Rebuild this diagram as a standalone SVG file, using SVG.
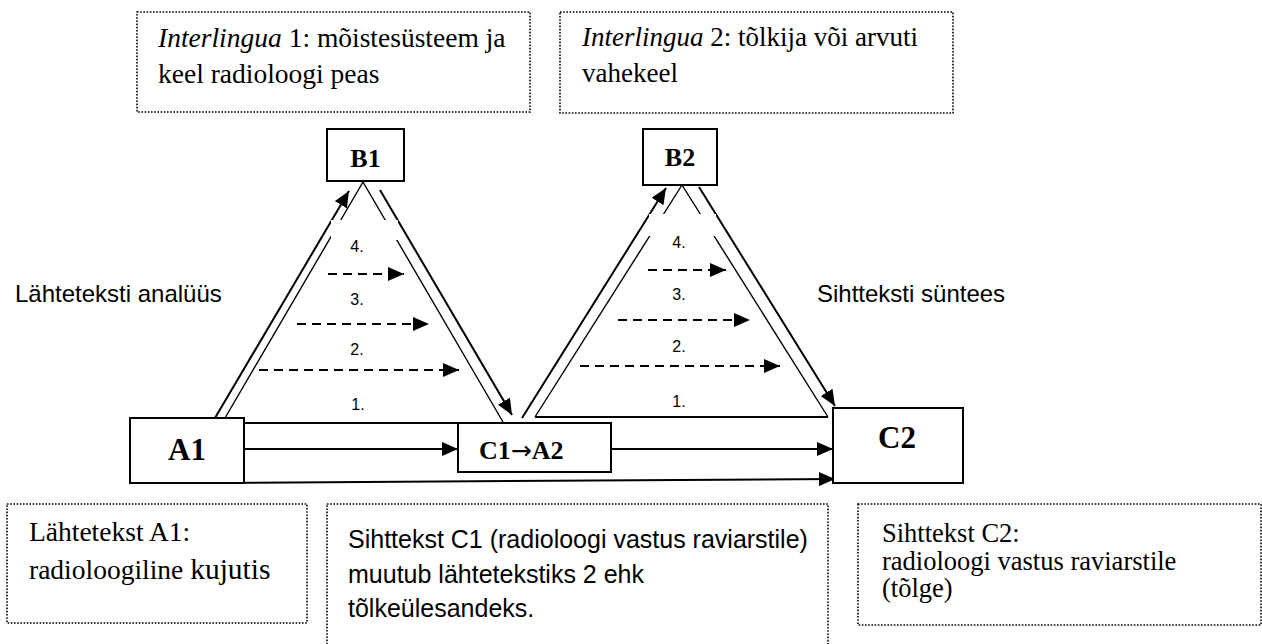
<svg xmlns="http://www.w3.org/2000/svg" width="1262" height="644" viewBox="0 0 1262 644">
<style>
.serif{font-family:"Liberation Serif","Times New Roman",serif;fill:#000}
.sans{font-family:"Liberation Sans",Arial,sans-serif;fill:#000}
.node{fill:#fff;stroke:#000;stroke-width:2}
.note{fill:#fff;stroke:#000;stroke-width:1.6;stroke-dasharray:1.6 1.6}
.bold{font-weight:bold}
.line{fill:none;stroke:#000;stroke-width:2}
.thin{fill:none;stroke:#000;stroke-width:1.4}
.dash{fill:none;stroke:#000;stroke-width:2;stroke-dasharray:9 6}
.num{font-size:16px;text-anchor:middle}
</style>
<defs>
<marker id="arr" markerUnits="userSpaceOnUse" viewBox="0 0 16 14" refX="16" refY="7" markerWidth="16" markerHeight="14" orient="auto">
<path d="M0,0 L16,7 L0,14 Z" fill="#000" stroke="none"/>
</marker>
</defs>
<rect width="1262" height="644" fill="#fff"/>

<g id="note-interlingua1">
<rect class="note" x="137" y="12" width="393" height="100"/>
<text class="serif" font-size="27.5" x="158" y="47"><tspan font-style="italic">Interlingua</tspan> 1: mõistesüsteem ja</text>
<text class="serif" font-size="27.5" x="158" y="83">keel radioloogi peas</text>
</g>
<g id="note-interlingua2">
<rect class="note" x="560" y="12" width="393" height="101"/>
<text class="serif" font-size="27" x="582" y="46"><tspan font-style="italic">Interlingua</tspan> 2: tõlkija või arvuti</text>
<text class="serif" font-size="27" x="582" y="82">vahekeel</text>
</g>

<g id="connectors">
<!-- triangle 1 -->
<line class="thin" x1="363" y1="182" x2="225" y2="418"/>
<line class="thin" x1="363" y1="182" x2="503" y2="422"/>
<line class="line" x1="215" y1="418" x2="349" y2="191" marker-end="url(#arr)"/>
<line class="line" x1="380" y1="190" x2="512" y2="415" marker-end="url(#arr)"/>
<rect x="331" y="220" width="67" height="20" fill="#fff"/>
<!-- triangle 2 -->
<line class="thin" x1="682" y1="185" x2="535" y2="417"/>
<line class="thin" x1="682" y1="185" x2="828" y2="417"/>
<line class="line" x1="535" y1="417" x2="828" y2="417"/>
<line class="line" x1="522" y1="418" x2="666" y2="188" marker-end="url(#arr)"/>
<line class="line" x1="699" y1="187" x2="835" y2="406" marker-end="url(#arr)"/>
<rect x="649" y="214" width="67" height="22" fill="#fff"/>
<!-- base lines -->
<line class="line" x1="244" y1="423" x2="458" y2="423"/>
<line class="line" x1="244" y1="449" x2="458" y2="449" marker-end="url(#arr)"/>
<line class="line" x1="611" y1="449" x2="833" y2="449" marker-end="url(#arr)"/>
<line class="line" x1="210" y1="483" x2="835" y2="479" marker-end="url(#arr)"/>
<!-- dashed levels triangle 1 -->
<line class="dash" x1="328" y1="274" x2="404" y2="274" marker-end="url(#arr)"/>
<line class="dash" x1="297" y1="324" x2="429" y2="324" marker-end="url(#arr)"/>
<line class="dash" x1="259" y1="370" x2="459" y2="370" marker-end="url(#arr)"/>
<!-- dashed levels triangle 2 -->
<line class="dash" x1="648" y1="270" x2="726" y2="270" marker-end="url(#arr)"/>
<line class="dash" x1="618" y1="320" x2="750" y2="320" marker-end="url(#arr)"/>
<line class="dash" x1="580" y1="366" x2="780" y2="366" marker-end="url(#arr)"/>
<!-- level numbers -->
<text class="sans num" x="357" y="252">4.</text>
<text class="sans num" x="357" y="305">3.</text>
<text class="sans num" x="357" y="355">2.</text>
<text class="sans num" x="358" y="410">1.</text>
<text class="sans num" x="679" y="248">4.</text>
<text class="sans num" x="679" y="300">3.</text>
<text class="sans num" x="679" y="352">2.</text>
<text class="sans num" x="679" y="407">1.</text>
</g>

<g id="node-B1">
<rect class="node" x="327" y="129" width="77" height="52"/>
<text class="serif bold" font-size="26" x="365.5" y="167" text-anchor="middle">B1</text>
</g>
<g id="node-B2">
<rect class="node" x="643" y="129" width="74" height="56"/>
<text class="serif bold" font-size="26" x="680" y="166" text-anchor="middle">B2</text>
</g>
<g id="node-A1">
<rect class="node" x="130" y="418" width="114" height="65"/>
<text class="serif bold" font-size="31" x="187" y="460" text-anchor="middle">A1</text>
</g>
<g id="node-C1A2">
<rect class="node" x="458" y="423" width="153" height="49"/>
<text class="serif bold" font-size="26" x="479" y="459">C1<tspan font-family="DejaVu Sans" font-weight="normal" font-size="25">→</tspan>A2</text>
</g>
<g id="node-C2">
<rect class="node" x="833" y="408" width="130" height="75"/>
<text class="serif bold" font-size="31" x="897" y="448" text-anchor="middle">C2</text>
</g>

<g id="label-analyys">
<text class="sans" font-size="24" x="15" y="302">Lähteteksti analüüs</text>
</g>
<g id="label-syntees">
<text class="sans" font-size="24" x="817" y="302">Sihtteksti süntees</text>
</g>

<g id="note-A1">
<rect class="note" x="7" y="504" width="300" height="119"/>
<text class="serif" font-size="27.5" x="29" y="541">Lähtetekst A1:</text>
<text class="serif" font-size="27.5" x="29" y="579">radioloogiline <tspan font-size="29.5">kujutis</tspan></text>
</g>
<g id="note-C1">
<rect class="note" x="327" y="504" width="501" height="150"/>
<text class="sans" font-size="25" x="348" y="548">Sihttekst C1 (radioloogi vastus raviarstile)</text>
<text class="sans" font-size="25" x="348" y="583">muutub lähtetekstiks 2 ehk</text>
<text class="sans" font-size="25" x="348" y="617">tõlkeülesandeks.</text>
</g>
<g id="note-C2">
<rect class="note" x="858" y="504" width="403" height="121"/>
<text class="serif" font-size="26.5" x="882" y="542">Sihttekst C2:</text>
<text class="serif" font-size="26.5" x="882" y="570">radioloogi vastus raviarstile</text>
<text class="serif" font-size="26.5" x="882" y="597">(tõlge)</text>
</g>
</svg>
